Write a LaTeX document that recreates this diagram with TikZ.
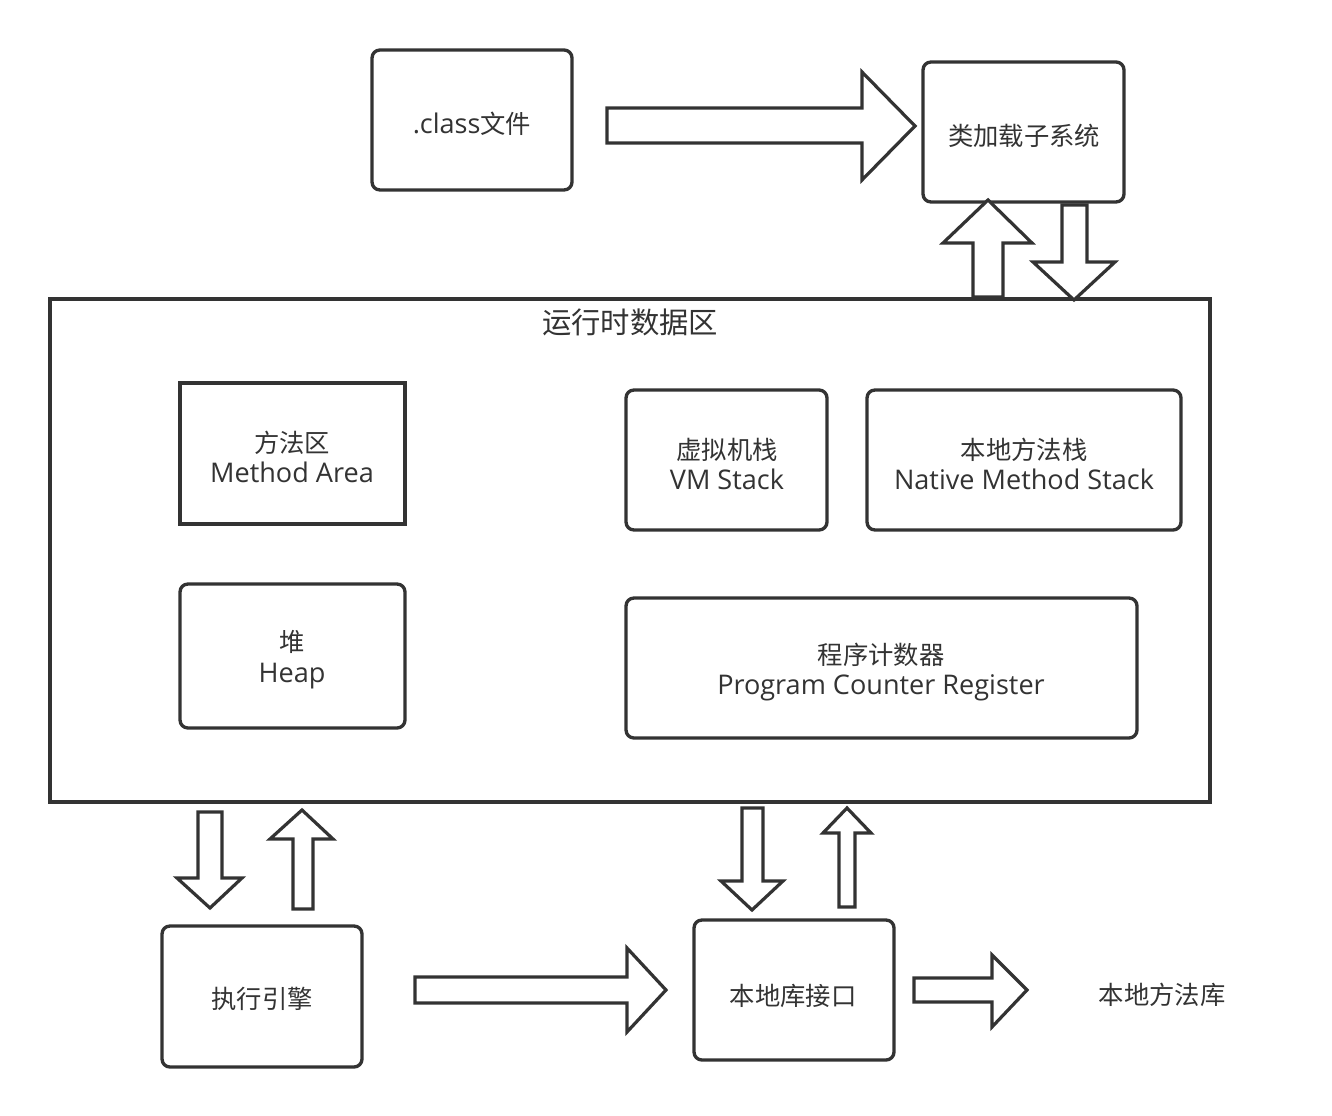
\documentclass[tikz,border=0pt]{standalone}
\usepackage{fontspec}
\setmainfont{Noto Sans CJK SC}
\newfontfamily\lat{Open Sans}
\newcommand{\latx}{\lat\fontsize{20.3}{23}\selectfont}
\definecolor{ink}{HTML}{333333}
\begin{document}
\begin{tikzpicture}[x=0.75pt,y=-0.75pt,
  box/.style={draw=ink,line width=2.5pt,rounded corners=6pt},
  sbox/.style={draw=ink,line width=2.5pt},
  barrow/.style={draw=ink,line width=2.4pt,fill=white,line join=miter},
  txt/.style={text=ink,font=\fontsize{19}{23}\selectfont,align=center,inner sep=0pt}]
\useasboundingbox[fill=white] (0,0) rectangle (1332,1116);
% boxes
\draw[box] (372,50) rectangle (572,190);
\node[txt] (cls) at (472,124) {{\latx .class}文件};
\draw[box] (923,62) rectangle (1124,202);
\node[txt] (loader) at (1024,136) {类加载子系统};
\draw[sbox] (50,299) rectangle (1210,802);
\node[txt,font=\fontsize{22}{26}\selectfont] (rda) at (630,322) {运行时数据区};
\draw[sbox] (180,383) rectangle (405,524);
\node[txt] (ma) at (292,457) {方法区\\{\latx Method Area}};
\draw[box] (626,390) rectangle (827,530);
\node[txt] (vms) at (727,464) {虚拟机栈\\{\latx VM Stack}};
\draw[box] (867,390) rectangle (1181,530);
\node[txt] (nms) at (1024,464) {本地方法栈\\{\latx Native Method Stack}};
\draw[box] (180,584) rectangle (405,728);
\node[txt] (heap) at (292,660) {堆\\{\latx Heap}};
\draw[box] (626,598) rectangle (1137,738);
\node[txt] (pc) at (881,672) {程序计数器\\{\latx Program Counter Register}};
\draw[box] (162,926) rectangle (362,1067);
\node[txt] (ee) at (262,999) {执行引擎};
\draw[box] (694,920) rectangle (894,1060);
\node[txt] (nli) at (793,996) {本地库接口};
\node[txt] (nml) at (1162,995) {本地方法库};
% block arrows
\draw[barrow] (607,108) -- (862,108) -- (862,72) -- (915,126) -- (862,180) -- (862,143) -- (607,143) -- cycle;
\draw[barrow] (973,297) -- (973,243) -- (943,243) -- (988,200) -- (1032,243) -- (1003,243) -- (1003,297) -- cycle;
\draw[barrow] (1062,205) -- (1087,205) -- (1087,262) -- (1115,262) -- (1074,300) -- (1033,262) -- (1062,262) -- cycle;
\draw[barrow] (198,812) -- (222,812) -- (222,878) -- (242,878) -- (210,908) -- (177,878) -- (198,878) -- cycle;
\draw[barrow] (293,909) -- (293,839) -- (270,839) -- (302,810) -- (333,839) -- (313,839) -- (313,909) -- cycle;
\draw[barrow] (742,808) -- (763,808) -- (763,881) -- (783,881) -- (752,910) -- (721,881) -- (742,881) -- cycle;
\draw[barrow] (839,907) -- (839,833) -- (823,833) -- (847,808) -- (871,833) -- (855,833) -- (855,907) -- cycle;
\draw[barrow] (415,977) -- (627,977) -- (627,948) -- (666,990) -- (627,1032) -- (627,1003) -- (415,1003) -- cycle;
\draw[barrow] (914,978) -- (992,978) -- (992,955) -- (1027,990) -- (992,1027) -- (992,1002) -- (914,1002) -- cycle;
\end{tikzpicture}
\end{document}
